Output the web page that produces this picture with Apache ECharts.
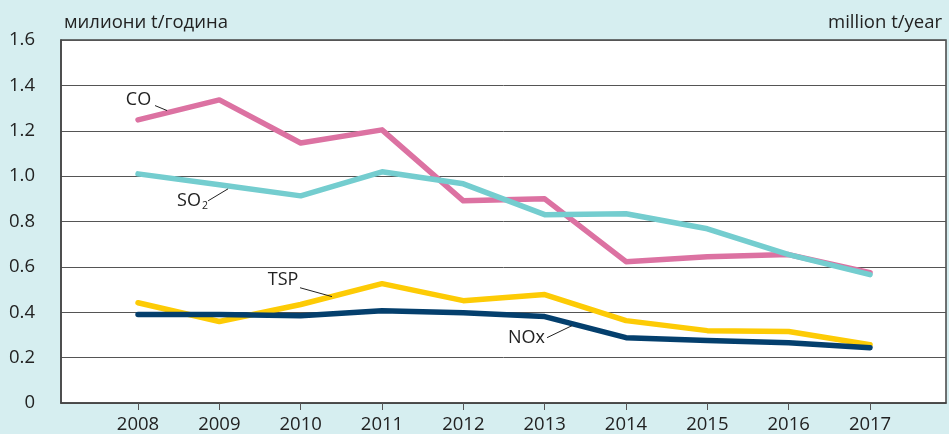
<!DOCTYPE html>
<html>
<head>
<meta charset="utf-8">
<script src="https://cdn.jsdelivr.net/npm/echarts@6/dist/echarts.min.js"></script>
<style>
  html, body { margin: 0; padding: 0; background: #d6eef0; }
  #chart { width: 949px; height: 434px; }
</style>
</head>
<body>
<div id="chart"></div>
<script>
// Emissions by pollutant, million tonnes per year
const years = [2008, 2009, 2010, 2011, 2012, 2013, 2014, 2015, 2016, 2017];
const co  = [1.248, 1.336, 1.146, 1.204, 0.891, 0.900, 0.623, 0.645, 0.654, 0.574];
const so2 = [1.010, 0.962, 0.913, 1.019, 0.966, 0.830, 0.834, 0.768, 0.654, 0.566];
const tsp = [0.442, 0.359, 0.434, 0.526, 0.451, 0.478, 0.363, 0.319, 0.315, 0.257];
const nox = [0.390, 0.390, 0.385, 0.407, 0.398, 0.381, 0.288, 0.275, 0.266, 0.244];
const yTicks = [0, 0.2, 0.4, 0.6, 0.8, 1.0, 1.2, 1.4, 1.6];

const FONT = 'Open Sans';
const TEXT = '#222';
const SIZE = 18.5;

// series name tags: text anchor and leader line, in axis units
const tags = {
  CO:  { text: [2008.006, 1.336], lead: [[2008.209, 1.311], [2008.357, 1.289]] },
  SO2: { text: [2008.670, 0.891], lead: [[2008.861, 0.891], [2009.107, 0.944]] },
  TSP: { text: [2009.783, 0.544], lead: [[2009.992, 0.508], [2010.385, 0.469]] },
  NOx: { text: [2012.777, 0.288], lead: [[2013.029, 0.288], [2013.336, 0.341]] }
};

function makeSeries(name, values, color, label) {
  const t = tags[name];
  return {
    name: name,
    type: 'line',
    data: years.map((y, i) => [y, values[i]]),
    symbol: 'none',
    lineStyle: { color: color, width: 5.5, cap: 'round', join: 'round' },
    itemStyle: { color: color },
    z: 3,
    markPoint: {
      silent: true,
      symbol: 'circle',
      symbolSize: 0,
      data: [{ coord: t.text }],
      label: {
        show: true,
        position: 'inside',
        formatter: label,
        color: TEXT,
        fontFamily: FONT,
        fontSize: 18,
        rich: {
          s: { fontFamily: FONT, fontSize: 18, color: TEXT },
          sub: { fontFamily: FONT, fontSize: 10.5, color: TEXT, verticalAlign: 'bottom', padding: [11, 0, 0, 1] }
        }
      }
    },
    markLine: {
      silent: true,
      symbol: ['none', 'none'],
      label: { show: false },
      lineStyle: { color: '#222', width: 1, type: 'solid' },
      emphasis: { disabled: true },
      data: [[{ coord: t.lead[0] }, { coord: t.lead[1] }]]
    }
  };
}

const chart = echarts.init(document.getElementById('chart'));
chart.setOption({
  backgroundColor: '#d6eef0',
  animation: false,
  title: [
    { text: 'милиони t/година', left: 59, top: 8,
      textStyle: { fontFamily: FONT, fontSize: SIZE, fontWeight: 'normal', color: TEXT } },
    { text: 'million t/year', right: 2, top: 8,
      textStyle: { fontFamily: FONT, fontSize: SIZE, fontWeight: 'normal', color: TEXT } }
  ],
  grid: {
    left: 61, right: 3, top: 40, bottom: 30.5,
    show: true, backgroundColor: '#ffffff', borderColor: '#444', borderWidth: 1.5
  },
  xAxis: {
    type: 'value',
    min: 2007.053,
    max: 2017.934,
    axisLine: { show: true, lineStyle: { color: '#444', width: 1.5 } },
    axisTick: { show: true, length: 7, lineStyle: { color: '#555' }, customValues: years },
    axisLabel: {
      customValues: years,
      formatter: v => String(v),
      fontFamily: FONT, fontSize: SIZE, color: TEXT, margin: 12
    },
    splitLine: { show: false }
  },
  yAxis: {
    type: 'value',
    min: 0,
    max: 1.6,
    interval: 0.2,
    axisLine: { show: true, lineStyle: { color: '#444', width: 1.5 } },
    axisTick: { show: false },
    axisLabel: {
      customValues: yTicks,
      formatter: v => (v === 0 ? '0' : v.toFixed(1)),
      fontFamily: FONT, fontSize: SIZE, color: TEXT, margin: 26
    },
    splitLine: { show: true, lineStyle: { color: '#555', width: 1 } }
  },
  series: [
    makeSeries('CO', co, '#dc72a2', 'CO'),
    makeSeries('SO2', so2, '#74cdcf', '{s|SO}{sub|2}'),
    makeSeries('TSP', tsp, '#fdcb05', 'TSP'),
    makeSeries('NOx', nox, '#043f6d', 'NOx')
  ]
});
</script>
</body>
</html>
